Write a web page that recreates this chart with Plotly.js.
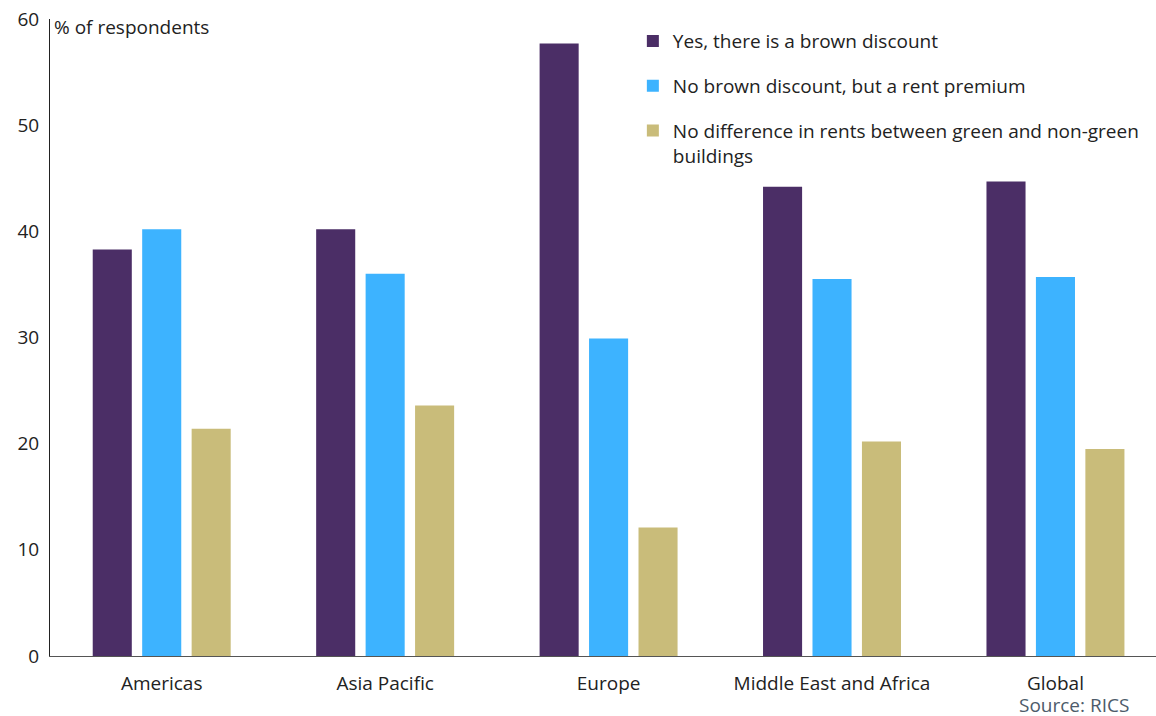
<!DOCTYPE html>
<html>
<head>
<meta charset="utf-8">
<script src="https://cdn.plot.ly/plotly-3.0.1.min.js"></script>
<style>html,body{margin:0;padding:0;background:#fff}#chart{width:1156px;height:716px}</style>
</head>
<body>
<div id="chart"></div>
<script>
const categories = ["Americas", "Asia Pacific", "Europe", "Middle East and Africa", "Global"];
const seriesNames = [
  "Yes, there is a brown discount",
  "No brown discount, but a rent premium",
  "No difference in rents between green and non-green<br>buildings"
];
const yesBrownDiscount = [38.3, 40.2, 57.7, 44.2, 44.7];
const rentPremium = [40.2, 36.0, 29.9, 35.5, 35.7];
const noDifference = [21.4, 23.6, 12.1, 20.2, 19.5];
const colors = ["#4b2e66", "#3db3ff", "#c9bc7a"];
const yTicks = [0, 10, 20, 30, 40, 50, 60];

const values = [yesBrownDiscount, rentPremium, noDifference];
const traces = values.map((v, i) => ({
  type: "bar",
  name: seriesNames[i],
  x: categories,
  y: v,
  legendgroup: "g" + i,
  marker: {color: colors[i]},
  hoverinfo: "x+y"
}));

const font = "'Open Sans', 'Noto Sans', sans-serif";
const fs = 19;
const layout = {
  width: 1156, height: 716,
  margin: {l: 50, r: 0, t: 19, b: 60},
  paper_bgcolor: "#fff", plot_bgcolor: "#fff",
  font: {family: font, size: fs, color: "#222"},
  barmode: "group",
  bargap: 0.336,
  bargroupgap: 0.21,
  showlegend: true,
  legend: {
    x: 0.527, y: 0.995, xanchor: "left", yanchor: "top",
    xref: "paper", yref: "paper",
    tracegroupgap: 17, valign: "top",
    font: {family: font, size: fs, color: "#222"},
    bgcolor: "rgba(0,0,0,0)", itemwidth: 30
  },
  xaxis: {
    type: "category",
    range: [-0.5, 4.45],
    showline: true, linecolor: "#555", linewidth: 1,
    ticks: "", showgrid: false, zeroline: false,
    ticklabelstandoff: 10,
    tickfont: {family: font, size: fs, color: "#222"}
  },
  yaxis: {
    range: [0, 60],
    tickvals: yTicks,
    showline: true, linecolor: "#222", linewidth: 1,
    ticks: "", showgrid: false, zeroline: false,
    ticklabelstandoff: 6,
    tickfont: {family: font, size: fs, color: "#222"}
  },
  annotations: [
    {text: "% of respondents", xref: "paper", yref: "paper", x: 0.002, y: 0.9874,
     xanchor: "left", yanchor: "middle", showarrow: false,
     font: {family: font, size: fs, color: "#222"}},
    {text: "Source: RICS", xref: "paper", yref: "paper", x: 0.977, y: -0.077,
     xanchor: "right", yanchor: "middle", showarrow: false,
     font: {family: font, size: fs, color: "#4d5b6a"}}
  ]
};
Plotly.newPlot("chart", traces, layout, {displayModeBar: false, responsive: false});
</script>
</body>
</html>
